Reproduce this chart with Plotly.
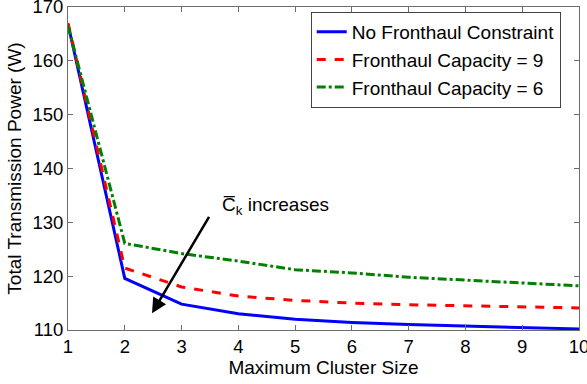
import plotly.graph_objects as go

cluster_size = [1, 2, 3, 4, 5, 6, 7, 8, 9, 10]
no_constraint = [166.8, 119.6, 114.8, 113.0, 112.0, 111.4, 111.0, 110.7, 110.4, 110.2]
capacity_9 = [167.0, 121.5, 118.0, 116.3, 115.5, 115.0, 114.7, 114.5, 114.2, 114.1]
capacity_6 = [166.5, 126.1, 124.2, 122.8, 121.2, 120.6, 119.8, 119.3, 118.7, 118.2]
series_names = ["No Fronthaul Constraint", "Fronthaul Capacity = 9", "Fronthaul Capacity = 6"]

FONT = "Liberation Sans, Arial, sans-serif"

fig = go.Figure()
fig.add_trace(go.Scatter(x=cluster_size, y=no_constraint, mode="lines", name=series_names[0],
                         line=dict(color="#0000ff", width=3, dash="solid")))
fig.add_trace(go.Scatter(x=cluster_size, y=capacity_9, mode="lines", name=series_names[1],
                         line=dict(color="#ff0000", width=3, dash="dash")))
fig.add_trace(go.Scatter(x=cluster_size, y=capacity_6, mode="lines", name=series_names[2],
                         line=dict(color="#008000", width=3, dash="dashdot")))

fig.add_annotation(x=2.48, y=113.1, ax=3.5, ay=131.3, xref="x", yref="y", axref="x", ayref="y",
                   text="", showarrow=True, arrowhead=2, arrowsize=1.2, arrowwidth=2.5, arrowcolor="black")
fig.add_annotation(x=3.68, y=133.0, xref="x", yref="y", xanchor="left", yanchor="middle",
                   text="C\u0305<sub>k</sub> increases", showarrow=False,
                   font=dict(family=FONT, size=19, color="black"))

axis_common = dict(showgrid=False, zeroline=False, showline=True, linecolor="#6e6e6e", linewidth=1,
                   mirror="ticks", ticks="inside", ticklen=5, tickcolor="#6e6e6e", automargin=False,
                   ticklabeloverflow="allow",
                   tickfont=dict(family=FONT, size=18.5, color="black"))

fig.update_layout(
    width=587, height=384,
    margin=dict(l=68, r=8, t=7, b=54),
    paper_bgcolor="white", plot_bgcolor="white",
    xaxis=dict(range=[1, 10], dtick=1, title=dict(text="Maximum Cluster Size", standoff=0,
               font=dict(family=FONT, size=19, color="black")), **axis_common),
    yaxis=dict(range=[110, 170], dtick=10, title=dict(text="Total Transmission Power (W)", standoff=5,
               font=dict(family=FONT, size=19, color="black")), **axis_common),
    legend=dict(x=0.475, y=0.985, xanchor="left", yanchor="top", bgcolor="white",
                bordercolor="#444444", borderwidth=1, font=dict(family=FONT, size=19, color="black"),
                tracegroupgap=0, itemwidth=30),
    showlegend=True,
)

fig.write_html("out.html", config={"displayModeBar": False},
               post_script="document.body.style.margin='0';")
